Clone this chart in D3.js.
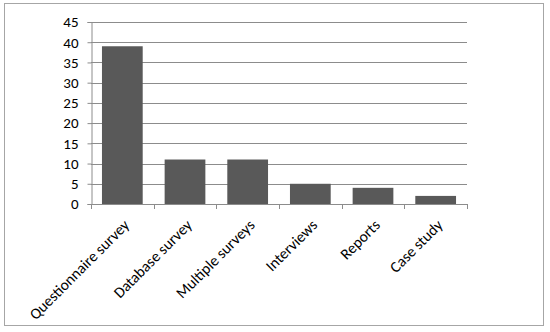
<!DOCTYPE html>
<html>
<head>
<meta charset="utf-8">
<script src="https://cdn.jsdelivr.net/npm/d3@7"></script>
<style>
  body { margin: 0; background: #fff; }
  text { font-family: Calibri, Carlito, Lato, sans-serif; fill: #000; }
</style>
</head>
<body>
<div id="chart"></div>
<script>
let width = 550;
let height = 332;

// data
let categories = ["Questionnaire survey", "Database survey", "Multiple surveys", "Interviews", "Reports", "Case study"];
let counts = [39, 11, 11, 5, 4, 2];
let yTicks = [0, 5, 10, 15, 20, 25, 30, 35, 40, 45];

let plot = { left: 91, right: 467, top: 22, bottom: 204 };

let svg = d3.select("#chart")
    .append("svg")
    .attr("width", width)
    .attr("height", height);

// outer frame
svg.append("rect")
    .attr("x", 4.5)
    .attr("y", 3.5)
    .attr("width", 539)
    .attr("height", 322)
    .attr("fill", "none")
    .attr("stroke", "#a6a6a6");

let x = d3.scaleBand()
    .domain(categories)
    .range([plot.left, plot.right])
    .paddingInner(0.35)
    .paddingOuter(0.175);

let y = d3.scaleLinear()
    .domain([0, 45])
    .range([plot.bottom, plot.top]);

// gridlines
svg.append("g")
    .selectAll("line")
    .data(yTicks.filter(d => d > 0))
    .join("line")
    .attr("x1", plot.left)
    .attr("x2", plot.right)
    .attr("y1", d => Math.round(y(d)) + 0.5)
    .attr("y2", d => Math.round(y(d)) + 0.5)
    .attr("stroke", "#8c8c8c");

// bars
svg.append("g")
    .selectAll("rect")
    .data(counts)
    .join("rect")
    .attr("x", (d, i) => x(categories[i]))
    .attr("y", d => y(d))
    .attr("width", x.bandwidth())
    .attr("height", d => y(0) - y(d))
    .attr("fill", "#595959");

// y axis
let yAxis = svg.append("g")
    .attr("transform", `translate(${plot.left + 0.5},0)`)
    .call(d3.axisLeft(y).tickValues(yTicks).tickSize(4).tickPadding(9));
yAxis.select(".domain").attr("stroke", "#8c8c8c");
yAxis.selectAll(".tick line").attr("stroke", "#8c8c8c");
yAxis.selectAll(".tick text")
    .attr("font-size", 15)
    .style("font-family", "Calibri, Carlito, Lato, sans-serif");

// x axis baseline with ticks between categories
let bounds = d3.range(categories.length + 1).map(i => plot.left + i * (plot.right - plot.left) / categories.length);
let xg = svg.append("g");
xg.append("line")
    .attr("x1", plot.left)
    .attr("x2", plot.right)
    .attr("y1", plot.bottom + 0.5)
    .attr("y2", plot.bottom + 0.5)
    .attr("stroke", "#8c8c8c");
xg.selectAll("line.tk")
    .data(bounds)
    .join("line")
    .attr("class", "tk")
    .attr("x1", d => Math.round(d) + 0.5)
    .attr("x2", d => Math.round(d) + 0.5)
    .attr("y1", plot.bottom)
    .attr("y2", plot.bottom + 5)
    .attr("stroke", "#8c8c8c");

// rotated category labels
svg.append("g")
    .selectAll("text")
    .data(categories)
    .join("text")
    .attr("transform", d => `translate(${x(d) + x.bandwidth() / 2 + 8},${plot.bottom + 22}) rotate(-45)`)
    .attr("text-anchor", "end")
    .attr("font-size", 15.5)
    .text(d => d);
</script>
</body>
</html>
